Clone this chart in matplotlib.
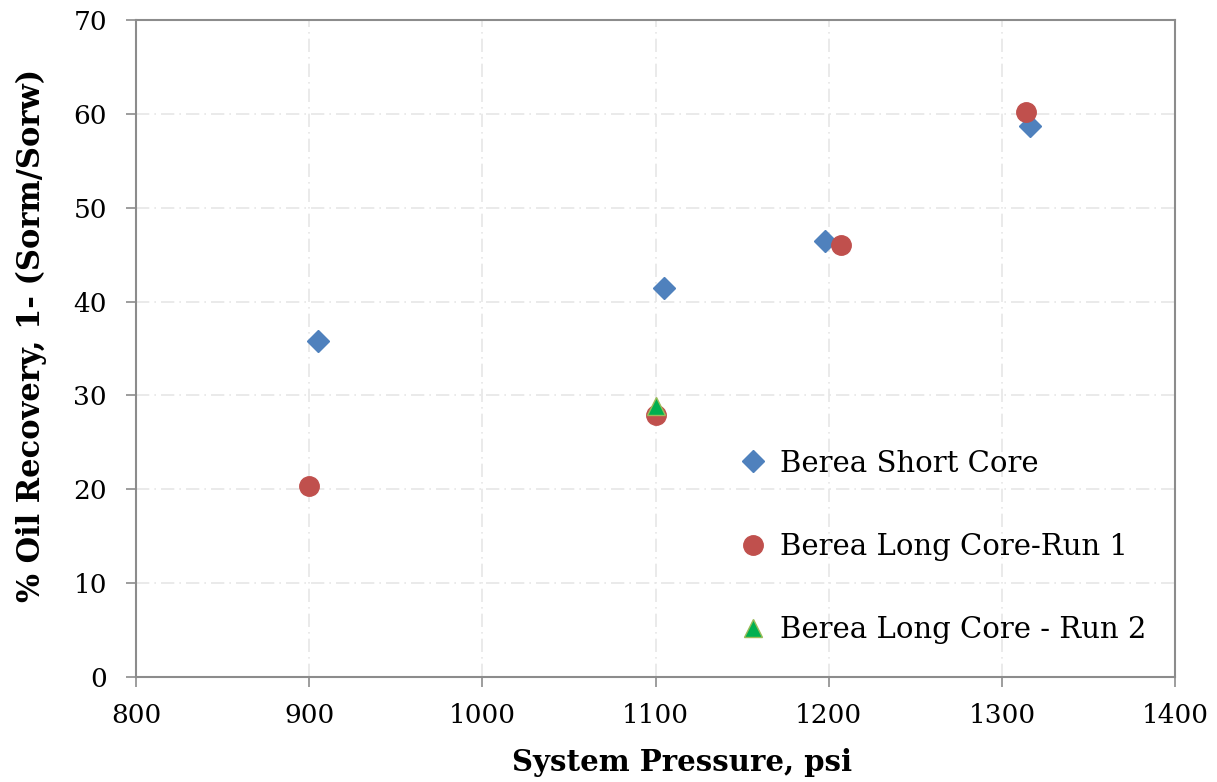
import matplotlib as mpl
mpl.use("Agg")
import matplotlib.pyplot as plt

# ---- data ----
short_x = [905, 1105, 1198, 1316]
short_y = [35.8, 41.4, 46.5, 58.7]
run1_x = [900, 1100, 1207, 1314]
run1_y = [20.4, 27.9, 46.0, 60.2]
run2_x = [1100]
run2_y = [28.9]

BLUE, RED, GREEN, GREEN_EDGE = "#4F81BD", "#C0504D", "#00B050", "#9BBB59"
AXC, GRID = "#8c8c8c", "#e6e6e6"

plt.rcParams.update({"font.family": "DejaVu Serif", "font.size": 19})

fig = plt.figure(figsize=(12.17, 7.82), dpi=100)
ax = fig.add_axes([0.1118, 0.1343, 0.8537, 0.8401])

ax.plot(short_x, short_y, ls="none", marker="D", ms=11, color=BLUE, mec=BLUE,
        label="Berea Short Core", zorder=3)
ax.plot(run1_x, run1_y, ls="none", marker="o", ms=14, color=RED, mec=RED,
        label="Berea Long Core-Run 1", zorder=3)
ax.plot(run2_x, run2_y, ls="none", marker="^", ms=13, color=GREEN, mec=GREEN_EDGE,
        mew=1, label="Berea Long Core - Run 2", zorder=4)

ax.set_xlim(800, 1400); ax.set_ylim(0, 70)
ax.set_xticks(range(800, 1401, 100)); ax.set_yticks(range(0, 71, 10))
ax.grid(True, color=GRID, lw=1.2, ls=(0, (8, 3, 1, 3)), zorder=0)
ax.set_axisbelow(True)
for s in ax.spines.values():
    s.set_color(AXC); s.set_linewidth(1.5)
ax.tick_params(direction="out", length=7, width=1.2, color=AXC)
ax.tick_params(axis="x", pad=12)
ax.tick_params(axis="y", pad=14)

ax.set_xlabel("System Pressure, psi", fontweight="bold", fontsize=21)
ax.xaxis.set_label_coords(0.5255, -0.108)
ax.set_ylabel("% Oil Recovery, 1- (Sorm/Sorw)", fontweight="bold", fontsize=22)
ax.yaxis.set_label_coords(-0.0857, 0.52)

ax.legend(loc="upper left", bbox_to_anchor=(0.5725, 0.364), frameon=False,
          handlelength=0.7, handletextpad=0.6, labelspacing=1.9, borderaxespad=0,
          fontsize=21)

fig.savefig("out.png", dpi=100)
